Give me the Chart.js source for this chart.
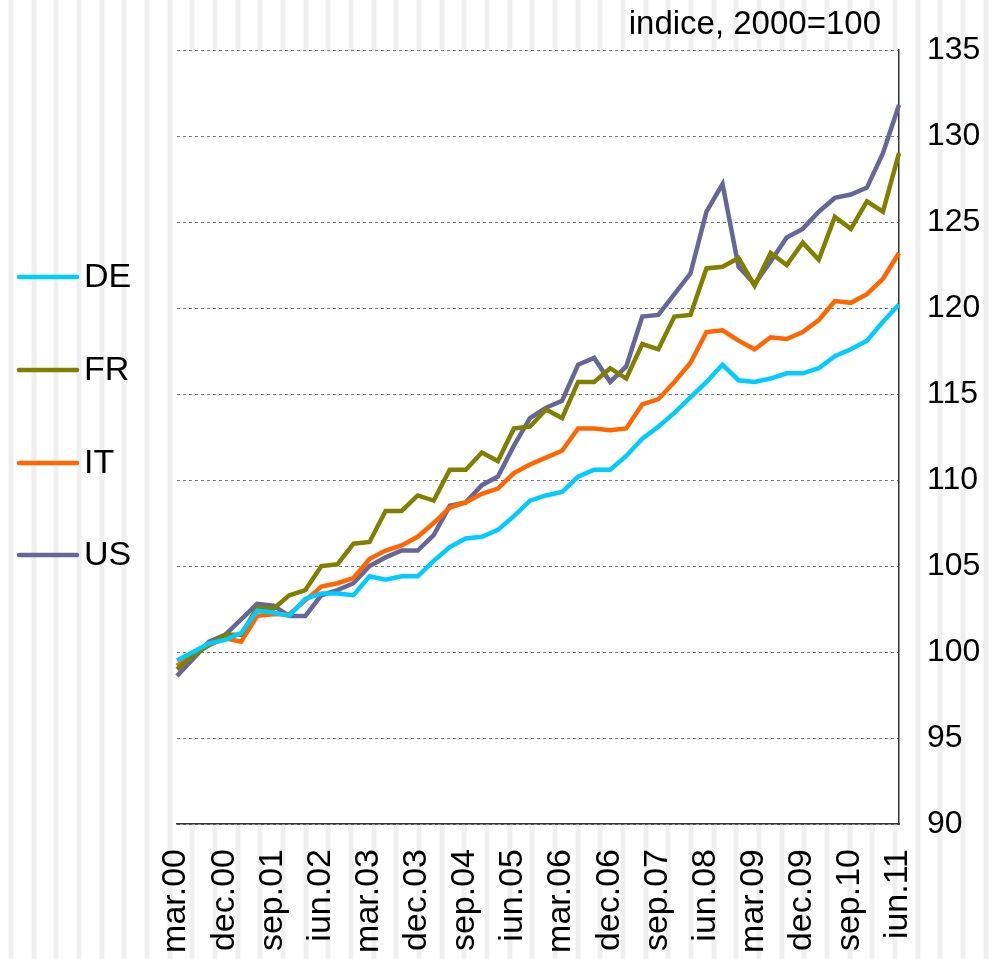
<!DOCTYPE html>
<html>
<head>
<meta charset="utf-8">
<script src="https://cdn.jsdelivr.net/npm/chart.js@4/dist/chart.umd.min.js"></script>
<style>
  html, body { margin: 0; padding: 0; background: #fff; }
  #chart { display: block; }
</style>
</head>
<body>
<canvas id="chart" width="1003" height="959"></canvas>
<script>
// Quarter labels (only every third one is shown on the axis)
const quarters = [
  "mar.00", "iun.00", "sep.00", "dec.00",
  "mar.01", "iun.01", "sep.01", "dec.01",
  "mar.02", "iun.02", "sep.02", "dec.02",
  "mar.03", "iun.03", "sep.03", "dec.03",
  "mar.04", "iun.04", "sep.04", "dec.04",
  "mar.05", "iun.05", "sep.05", "dec.05",
  "mar.06", "iun.06", "sep.06", "dec.06",
  "mar.07", "iun.07", "sep.07", "dec.07",
  "mar.08", "iun.08", "sep.08", "dec.08",
  "mar.09", "iun.09", "sep.09", "dec.09",
  "mar.10", "iun.10", "sep.10", "dec.10",
  "mar.11", "iun.11",
];

// Series values, index 2000=100
const deValues = [
  99.5, 100.0, 100.5, 100.7, 101.1, 102.4, 102.3, 102.1, 103.1, 103.4,
  103.4, 103.3, 104.4, 104.2, 104.4, 104.4, 105.3, 106.1, 106.6, 106.7,
  107.1, 107.9, 108.8, 109.1, 109.3, 110.2, 110.6, 110.6, 111.4, 112.4,
  113.1, 113.9, 114.8, 115.7, 116.7, 115.8, 115.7, 115.9, 116.2, 116.2,
  116.5, 117.2, 117.6, 118.1, 119.2, 120.2,
];
const frValues = [
  99.0, 99.8, 100.4, 101.0, 101.0, 102.6, 102.5, 103.3, 103.6, 105.0,
  105.1, 106.3, 106.4, 108.2, 108.2, 109.1, 108.8, 110.6, 110.6, 111.6,
  111.1, 113.0, 113.1, 114.1, 113.6, 115.7, 115.7, 116.5, 115.9, 117.9,
  117.6, 119.5, 119.6, 122.3, 122.4, 122.9, 121.3, 123.2, 122.5, 123.8,
  122.8, 125.3, 124.6, 126.2, 125.6, 129.0,
];
const itValues = [
  99.2, 99.9, 100.4, 100.8, 100.6, 102.1, 102.2, 102.2, 103.0, 103.8,
  104.0, 104.3, 105.4, 105.9, 106.2, 106.7, 107.5, 108.4, 108.7, 109.2,
  109.5, 110.4, 110.9, 111.3, 111.7, 113.0, 113.0, 112.9, 113.0, 114.4,
  114.7, 115.7, 116.8, 118.6, 118.7, 118.1, 117.6, 118.3, 118.2, 118.6,
  119.3, 120.4, 120.3, 120.8, 121.7, 123.2,
];
const usValues = [
  98.6, 99.6, 100.6, 101.0, 101.9, 102.8, 102.7, 102.1, 102.1, 103.3,
  103.6, 104.0, 105.0, 105.5, 105.9, 105.9, 106.8, 108.5, 108.7, 109.7,
  110.2, 112.0, 113.6, 114.2, 114.6, 116.7, 117.1, 115.7, 116.6, 119.5,
  119.6, 120.8, 122.0, 125.6, 127.2, 122.4, 121.4, 122.7, 124.1, 124.6,
  125.6, 126.4, 126.6, 127.0, 129.0, 131.8,
];

const seriesNames = ["DE", "FR", "IT", "US"];
const seriesColors = ["#00ccff", "#808000", "#ff6600", "#666699"];
const yMin = 90;
const yMax = 135;
const yStep = 5;
const unitTitle = "indice, 2000=100";

const fontFamily = "'Liberation Sans', Arial, sans-serif";

// Striped page background, white plot area
const backgroundPlugin = {
  id: "stripes",
  beforeDraw(chart) {
    const ctx = chart.ctx;
    const area = chart.chartArea;
    ctx.save();
    ctx.fillStyle = "#ffffff";
    ctx.fillRect(0, 0, chart.width, chart.height);
    for (let x = 11; x < chart.width + 4; x += 22.67) {
      ctx.fillStyle = "#f7f7f7";
      ctx.fillRect(Math.round(x) - 3, 0, 6, chart.height);
      ctx.fillStyle = "#efefef";
      ctx.fillRect(Math.round(x) - 2, 0, 4, chart.height);
    }
    ctx.fillStyle = "#ffffff";
    ctx.fillRect(area.left, area.top, area.right - area.left, area.bottom - area.top);
    ctx.restore();
  },
};

// Legend on the left and unit label at the top
const annotationPlugin = {
  id: "sideLegend",
  afterDraw(chart) {
    const ctx = chart.ctx;
    ctx.save();
    const rows = [277, 370, 463, 555];
    chart.data.datasets.forEach(function (ds, i) {
      const y = rows[i];
      ctx.strokeStyle = ds.borderColor;
      ctx.lineWidth = 4.5;
      ctx.lineCap = "round";
      ctx.beginPath();
      ctx.moveTo(19, y);
      ctx.lineTo(77, y);
      ctx.stroke();
      ctx.fillStyle = "#000";
      ctx.font = "34px " + fontFamily;
      ctx.textAlign = "left";
      ctx.textBaseline = "middle";
      ctx.fillText(ds.label, 84, y + 1);
    });
    ctx.font = "33px " + fontFamily;
    ctx.textAlign = "right";
    ctx.textBaseline = "alphabetic";
    ctx.fillStyle = "#000";
    ctx.fillText(unitTitle, 881, 34);
    ctx.restore();
  },
};

const allValues = [deValues, frValues, itValues, usValues];

const chartRef = document.getElementById("chart");
const myChart = new Chart(chartRef, {
  type: "line",
  data: {
    labels: quarters,
    datasets: allValues.map(function (vals, i) {
      return {
        label: seriesNames[i],
        data: vals,
        borderColor: seriesColors[i],
        backgroundColor: seriesColors[i],
        borderWidth: 4.5,
        pointRadius: 0,
        tension: 0,
        fill: false,
      };
    }),
  },
  options: {
    responsive: false,
    animation: false,
    layout: { padding: { left: 177, top: 50, right: 0, bottom: 0 } },
    plugins: {
      legend: { display: false },
      tooltip: { enabled: false },
    },
    scales: {
      x: {
        offset: false,
        grid: { display: false },
        border: { display: true, color: "#333", width: 1.5 },
        afterFit: function (scale) {
          scale.height = 135;
          scale.paddingLeft = 0;
          scale.paddingRight = 0;
        },
        ticks: {
          autoSkip: false,
          maxRotation: 90,
          minRotation: 90,
          padding: 17,
          labelOffset: -1,
          color: "#000",
          font: { family: fontFamily, size: 34 },
          callback: function (value, index) {
            return index % 3 === 0 ? quarters[index] : "";
          },
        },
      },
      y: {
        position: "right",
        min: yMin,
        max: yMax,
        afterFit: function (scale) {
          scale.width = 104;
          scale.paddingTop = 0;
          scale.paddingBottom = 0;
        },
        grid: { color: "#777", lineWidth: 1, drawTicks: false },
        border: { display: true, color: "#333", width: 1.5, dash: [3, 3] },
        ticks: {
          stepSize: yStep,
          padding: 28,
          color: "#000",
          font: { family: fontFamily, size: 32 },
        },
      },
    },
  },
  plugins: [backgroundPlugin, annotationPlugin],
});
</script>
</body>
</html>
